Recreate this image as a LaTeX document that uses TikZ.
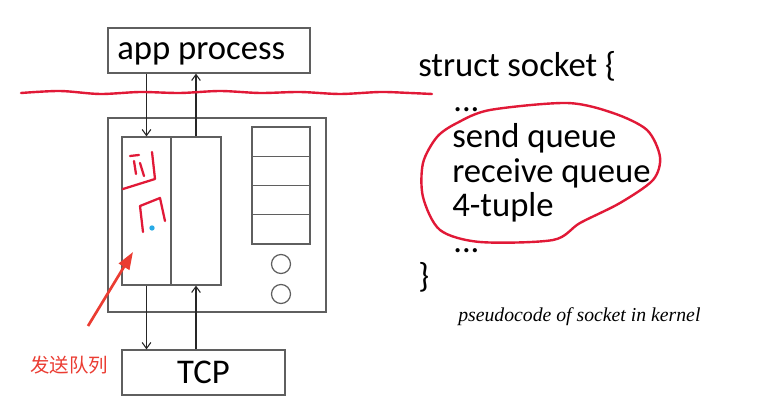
\documentclass[tikz,border=0pt]{standalone}
\usepackage{fontspec}
\setmainfont{Carlito}
\newfontfamily\cjkfont{Noto Sans CJK SC}
\newfontfamily\timesfont{Liberation Serif}
\usetikzlibrary{
    arrows.meta,
    calc,
    positioning
}
\definecolor{framegray}{RGB}{95,95,95}
\definecolor{inkred}{RGB}{225,25,55}
\definecolor{notered}{RGB}{235,60,50}
\definecolor{dotblue}{RGB}{40,170,230}

\begin{document}
\begin{tikzpicture}[x=0.75pt, y=-0.75pt,
    box/.style={draw=framegray, line width=0.9pt, inner sep=0pt},
    arr/.style={-{Straight Barb[length=4.5pt, width=6.5pt]}, line width=0.8pt, black!85},
    code/.style={font=\fontsize{26}{30}\selectfont, anchor=base west, inner sep=0pt},
    ink/.style={inkred, line width=1.7pt, line cap=round, line join=round}]
    % Background
    \useasboundingbox (0,0) rectangle (761,416);
    \fill[white] (0,0) rectangle (761,416);

    % Application process
    \node[box, minimum width=151.5pt, minimum height=33.75pt] (app) at (209,50.5) {};
    \node[code] (apptext) at (117,60) {app process};

    % Socket in kernel
    \node[box, minimum width=163.5pt, minimum height=145.5pt] (socket) at (217,215) {};
    \node[box, minimum width=36.75pt, minimum height=111pt] (sendq) at (146.5,211) {};
    \node[box, minimum width=37.5pt, minimum height=111pt] (recvq) at (196,211) {};
    \foreach \i in {1,...,4}
        \node[box, minimum width=43.5pt, minimum height=21.94pt] (cell\i) at (281,{127+29.25*(\i-0.5)}) {};
    \node[box, circle, minimum size=14.25pt] (hole1) at (281,264) {};
    \node[box, circle, minimum size=14.25pt] (hole2) at (281,294) {};

    % Transport layer
    \node[box, minimum width=122.25pt, minimum height=33.75pt, font=\fontsize{26}{30}\selectfont] (tcp) at (203.5,372.5) {TCP};

    % Data paths
    \draw[arr] (app.south -| sendq) -- (sendq.north);
    \draw[arr] (recvq.north) -- (app.south -| recvq);
    \draw[arr] (sendq.south) -- (tcp.north -| sendq);
    \draw[arr] (tcp.north -| recvq) -- (recvq.south);

    % User / kernel boundary
    \draw[inkred, line width=1.8pt, line cap=round] plot[smooth] coordinates {
        (21,93) (60,91) (100,94) (140,92) (180,93) (220,91) (260,93)
        (300,92) (340,94) (380,92) (410,93) (432,94)};

    % Handwriting on the send queue
    \draw[ink] (130,156) -- (139,155);
    \draw[ink] (134,161) -- (136,174);
    \draw[ink] (140,163) -- (144,176);
    \draw[ink] (152,152) -- (155,179) -- (123,189);
    \draw[ink] (143,232) -- (140,206) -- (160,198) -- (165,221);
    \fill[dotblue] (152,228) circle (2pt);

    % Note
    \node[font=\cjkfont\fontsize{14.6}{17}\selectfont, text=notered, inner sep=0pt] (note) at (69,365) {发送队列};
    \coordinate (notetail) at (88,326);
    \coordinate (notetip) at (133,252);
    \draw[notered, line width=2pt, -{Triangle[length=13pt, width=9pt]}] (notetail) -- (notetip);

    % Pseudocode
    \node[code] (l1) at (418,77) {struct socket \{};
    \node[code] (l2) at (453,112) {...};
    \node[code] (l3) at (452,148) {send queue};
    \node[code] (l4) at (452,183) {receive queue};
    \node[code] (l5) at (452,217) {4-tuple};
    \node[code] (l6) at (453,253) {...};
    \node[code] (l7) at (418,288) {\}};
    \node[font=\timesfont\itshape\fontsize{14.8}{17}\selectfont, anchor=base west, inner sep=0pt] (caption) at (458,322) {pseudocode of socket in kernel};

    % Circled fields
    \draw[inkred, line width=1.8pt] plot[smooth cycle] coordinates {
        (490,110) (567,103) (613,113) (647,130) (660,157) (653,180) (620,203)
        (580,223) (553,240) (480,242) (440,230) (423,197) (423,163) (437,137) (457,123)};
\end{tikzpicture}
\end{document}
